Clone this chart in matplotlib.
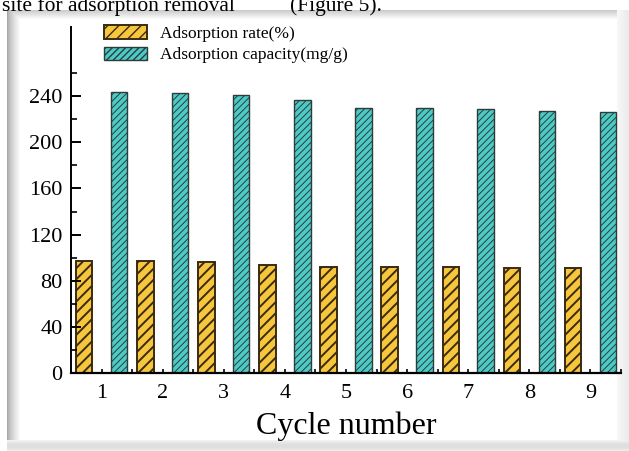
import numpy as np
import matplotlib
matplotlib.use("Agg")
import matplotlib.pyplot as plt
from matplotlib.ticker import MultipleLocator, FixedLocator

plt.rcParams["font.family"] = ["Liberation Serif", "DejaVu Serif"]

# ---------------------------------------------------------------------------
# Data
# ---------------------------------------------------------------------------
cycles = [1, 2, 3, 4, 5, 6, 7, 8, 9]
rate = [97, 97, 96, 94, 92, 92, 92, 91, 91]
capacity = [244, 243, 241, 237, 230, 230, 229, 227, 226]
series_labels = ["Adsorption rate(%)", "Adsorption capacity(mg/g)"]
y_ticks = [0, 40, 80, 120, 160, 200, 240]

RATE_FACE = "#F6C63C"
RATE_EDGE = "#3B2A12"
CAP_FACE = "#4CCBC6"
CAP_EDGE = "#2E3B3B"

W, H, DPI = 629, 451, 100


def frame_background(w, h):
    """White page with a bevelled, shadowed picture frame."""
    img = np.ones((h, w, 3))
    x0, y0, x1, y1 = 7, 10, 617, 440
    # left bevel
    for i, x in enumerate(range(x0, x0 + 14)):
        v = 0.66 + 0.34 * (i / 13) ** 0.7
        img[y0:y1, x] = np.minimum(img[y0:y1, x], v)
    # top bevel
    for i, y in enumerate(range(y0, y0 + 10)):
        v = 0.80 + 0.20 * (i / 9)
        img[y, x0:x1] = np.minimum(img[y, x0:x1], v)
    # right shadow
    for i, x in enumerate(range(x1, w)):
        v = 0.97 - 0.05 * (i / max(1, w - x1 - 1))
        img[y0:h, x] = np.minimum(img[y0:h, x], v)
    # bottom shadow
    for i, y in enumerate(range(y1, h)):
        v = 0.95 - 0.08 * np.sin(np.pi * i / (h - y1))
        img[y, x0:w] = np.minimum(img[y, x0:w], v)
    return img


fig = plt.figure(figsize=(W / DPI, H / DPI), dpi=DPI, facecolor="white")

bg = fig.add_axes([0, 0, 1, 1], zorder=0)
bg.imshow(frame_background(W, H), extent=(0, W, H, 0), aspect="auto",
          interpolation="bilinear")
bg.set_xlim(0, W)
bg.set_ylim(H, 0)
bg.set_axis_off()

# running text line from the page, cut by the top edge
fig.text(2 / W, 1 - 11 / H, "site for adsorption removal", fontsize=15.5,
         va="baseline", ha="left", color="black")
fig.text(290 / W, 1 - 11 / H, "(Figure 5).", fontsize=15.5,
         va="baseline", ha="left", color="black")

ax = fig.add_axes([71 / W, 1 - 373 / H, (621 - 71) / W, (373 - 27) / H],
                  zorder=1)
ax.patch.set_alpha(0)

x = np.array(cycles, dtype=float)
off, bw = 0.285, 0.27
b1 = ax.bar(x - off, rate, bw, facecolor=RATE_FACE, edgecolor=RATE_EDGE,
            linewidth=1.4, hatch="///", label=series_labels[0])
b2 = ax.bar(x + off, capacity, bw, facecolor=CAP_FACE, edgecolor=CAP_EDGE,
            linewidth=1.0, hatch="/////", label=series_labels[1])
for p in b1:
    if hasattr(p, "set_hatch_linewidth"):
        p.set_hatch_linewidth(1.4)
for p in b2:
    if hasattr(p, "set_hatch_linewidth"):
        p.set_hatch_linewidth(0.7)

ax.set_xlim(0.5, 9.5)
ax.set_ylim(0, 300)

ax.spines["top"].set_visible(False)
ax.spines["right"].set_visible(False)
ax.spines["left"].set_linewidth(1.4)
ax.spines["bottom"].set_linewidth(1.6)

ax.set_xticks(cycles)
ax.xaxis.set_minor_locator(MultipleLocator(0.5))
ax.set_yticks(y_ticks)
ax.yaxis.set_minor_locator(FixedLocator([20, 60, 100, 140, 180, 220, 260]))

ax.tick_params(axis="x", which="both", direction="in", length=3, width=1.2,
               labelsize=16, pad=8)
ax.tick_params(axis="y", which="major", direction="in", length=7, width=1.4,
               labelsize=16, pad=6)
ax.tick_params(axis="y", which="minor", direction="in", length=4, width=1.2)

ax.set_xlabel("Cycle number", fontsize=23, labelpad=6)

leg = ax.legend(loc="upper left", bbox_to_anchor=(0.06, 1.005),
                frameon=False, fontsize=12.5, handlelength=2.45,
                handleheight=0.85, labelspacing=0.25, handletextpad=0.8,
                borderpad=0, borderaxespad=0)

fig.savefig("out.png", dpi=DPI, facecolor="white")
